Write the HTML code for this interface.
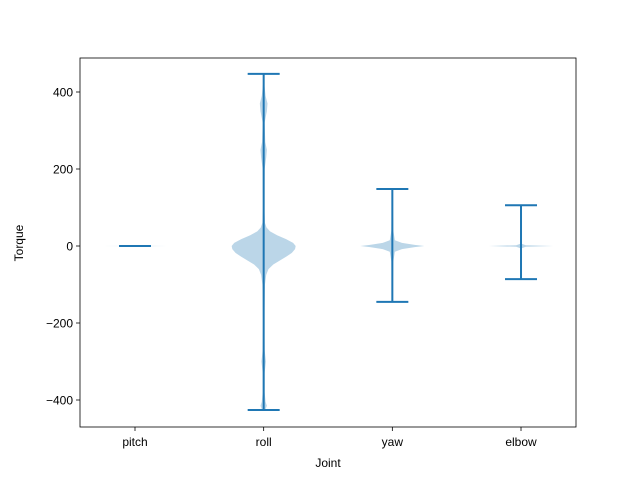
<!DOCTYPE html>
<html><head><meta charset="utf-8"><style>
body{margin:0;background:#fff}
svg{display:block;font-family:"Liberation Sans","DejaVu Sans",sans-serif}
</style></head><body>
<svg id="chart" width="640" height="480" viewBox="0 0 640 480"></svg>
<script>
const categories = ["pitch","roll","yaw","elbow"];
const maxima = [0, 447, 148, 106];
const minima = [0, -426, -145, -86];
const yTicks = [-400,-200,0,200,400];
// density profiles: sample values and relative half-widths
const pitchVals = [-2,-0.5,0,0.5,2];
const pitchW = [0,0.03,1,0.03,0];
const rollVals = [-426,-415,-405,-380,-330,-300,-270,-200,-100,-75,-60,-48,-38,-28,-18,-8,0,8,18,28,38,48,60,100,200,230,250,270,320,350,370,390,420,447];
const rollW = [0.05,0.1,0.06,0.03,0.03,0.07,0.03,0.02,0.04,0.08,0.15,0.3,0.5,0.7,0.88,0.98,1,0.92,0.7,0.42,0.2,0.09,0.04,0.02,0.03,0.08,0.1,0.05,0.03,0.1,0.12,0.06,0.02,0.01];
const yawVals = [-145,-100,-40,-15,-8,-3,0,3,8,15,40,100,148];
const yawW = [0.01,0.02,0.03,0.08,0.3,0.7,1,0.7,0.3,0.08,0.03,0.02,0.01];
const elbowVals = [-86,-30,-6,-2,0,2,6,30,106];
const elbowW = [0,0.01,0.02,0.15,1,0.15,0.02,0.01,0];
const densVals = [pitchVals, rollVals, yawVals, elbowVals];
const densW = [pitchW, rollW, yawW, elbowW];

const L=80,R=576,T=58,B=427;
const yScale = v => 246 - v*0.385;
const xScale = i => 135 + i*128.67;
const halfMax = 32;
const NS="http://www.w3.org/2000/svg";
const svg=document.getElementById("chart");
function mk(t,a){const e=document.createElementNS(NS,t);for(const k in a)e.setAttribute(k,a[k]);svg.appendChild(e);return e;}
const blue="#1f77b4";

categories.forEach((c,i)=>{
  const cx=xScale(i), vs=densVals[i], ws=densW[i];
  let pts=[];
  for(let j=0;j<vs.length;j++) pts.push((cx+ws[j]*halfMax).toFixed(2)+","+yScale(vs[j]).toFixed(2));
  for(let j=vs.length-1;j>=0;j--) pts.push((cx-ws[j]*halfMax).toFixed(2)+","+yScale(vs[j]).toFixed(2));
  const p=mk("polygon",{points:pts.join(" "),fill:blue,"fill-opacity":"0.3",stroke:"none"});
  
  
  const ln=mk("line",{x1:cx,x2:cx,y1:yScale(maxima[i]),y2:yScale(minima[i]),stroke:blue,"stroke-width":2});
  
  
  [maxima[i],minima[i]].forEach((v,k)=>{
    const cap=mk("line",{x1:cx-16,x2:cx+16,y1:yScale(v),y2:yScale(v),stroke:blue,"stroke-width":2});
    
    
  });
  const tk=mk("line",{x1:cx,x2:cx,y1:B,y2:B+4,stroke:"#000","stroke-width":0.8});
  
  
  const tl=mk("text",{x:cx,y:B+19,"text-anchor":"middle","font-size":"12"});
  tl.textContent=c;
  
  
});
yTicks.forEach(v=>{
  const y=yScale(v);
  const tk=mk("line",{x1:L-4,x2:L,y1:y,y2:y,stroke:"#000","stroke-width":0.8});
  
  
  const tl=mk("text",{x:L-7,y:y+4.5,"text-anchor":"end","font-size":"12"});
  tl.textContent=String(v).replace("-","\u2212");
  
  
});
const fr=mk("rect",{x:L,y:T,width:R-L,height:B-T,fill:"none",stroke:"#000","stroke-width":0.8});


const xt=mk("text",{x:328,y:467,"text-anchor":"middle","font-size":"12"});
xt.textContent="Joint";


const yt=mk("text",{x:23,y:243,"text-anchor":"middle","font-size":"12",transform:"rotate(-90 23 243)"});
yt.textContent="Torque";


</script>
</body></html>
